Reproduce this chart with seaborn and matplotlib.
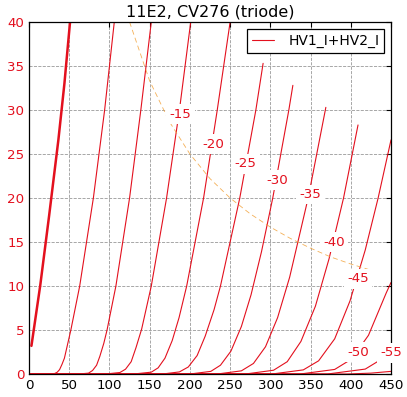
import matplotlib
matplotlib.use('Agg')
import matplotlib.pyplot as plt
from matplotlib.lines import Line2D
import pandas as pd
import seaborn as sns

# anode voltage (V) / anode current (mA) for each grid voltage
va_g0 = [3, 14, 25, 36.5, 44, 51]
ia_g0 = [3.2, 10.1, 18, 26.6, 33, 40]
va_g5 = [0, 20, 32, 35, 38, 41, 44, 52, 63, 80, 94, 106]
ia_g5 = [0, 0, 0.06, 0.2, 0.5, 1.1, 1.8, 5, 10, 20, 30, 40]
va_g10 = [0, 62, 74, 79, 84, 88, 93, 97, 108, 125, 139, 152]
ia_g10 = [0, 0, 0.1, 0.4, 1.0, 2.0, 3.5, 5, 10, 20, 30, 40]
va_g15 = [0, 95, 113, 120, 127, 133, 140, 152, 171, 187, 201]
ia_g15 = [0, 0, 0.17, 0.55, 1.4, 3.0, 5.1, 10, 20, 30, 40]
va_g20 = [0, 130, 152, 160.5, 169, 178, 186.5, 196, 217, 234, 250]
ia_g20 = [0, 0, 0.21, 0.7, 1.8, 3.8, 6.4, 10, 20, 30, 40]
va_g25 = [0, 166, 187, 198, 209, 219, 230, 238, 262, 282, 291]
ia_g25 = [0, 0, 0.24, 0.8, 2.1, 4.3, 7.3, 10, 20, 30, 35.3]
va_g30 = [0, 200, 226, 238, 251, 264, 276, 289, 303, 323, 328]
ia_g30 = [0, 0, 0.3, 1.0, 2.6, 5.4, 9.0, 13.9, 20, 30, 32.8]
va_g35 = [0, 234, 264, 279, 294, 309, 324, 347, 369]
ia_g35 = [0, 0, 0.36, 1.2, 3.1, 6.4, 11, 20, 30.3]
va_g40 = [0, 269, 304, 321, 338, 356, 373, 391, 409]
ia_g40 = [0, 0, 0.43, 1.4, 3.7, 7.7, 13.1, 20, 28.3]
va_g45 = [0, 302, 341, 360, 380, 399, 418, 434, 450]
ia_g45 = [0, 0, 0.47, 1.5, 4.0, 8.3, 14.1, 20, 26.6]
va_g50 = [0, 337, 380, 401, 422, 444, 450]
ia_g50 = [0, 0, 0.52, 1.7, 4.4, 9.2, 10.4]
va_g55 = [0, 371, 418, 441, 450]
ia_g55 = [0, 0, 0.56, 1.84, 2.7]
va_g60 = [0, 395, 425, 450]
ia_g60 = [0, 0, 0.1, 0.3]

# 5 W anode dissipation limit
va_pmax = [125, 150, 175, 200, 225, 250, 275, 300, 325, 350, 375, 400, 425]
ia_pmax = [40, 33.3, 28.6, 25, 22.2, 20, 18.2, 16.7, 15.4, 14.3, 13.3, 12.5, 11.8]

# curve labels
label_text = ['-15', '-20', '-25', '-30', '-35', '-40', '-45', '-50', '-55']
label_va = [188, 229, 269, 309, 350, 379, 409, 409, 450]
label_ia = [29.5, 26.1, 23.9, 22.0, 20.4, 15.0, 10.8, 2.5, 2.4]

curves = {
    -5: (va_g5, ia_g5), -10: (va_g10, ia_g10), -15: (va_g15, ia_g15),
    -20: (va_g20, ia_g20), -25: (va_g25, ia_g25), -30: (va_g30, ia_g30),
    -35: (va_g35, ia_g35), -40: (va_g40, ia_g40), -45: (va_g45, ia_g45),
    -50: (va_g50, ia_g50), -55: (va_g55, ia_g55), -60: (va_g60, ia_g60),
}
rows = []
for vg, (va, ia) in curves.items():
    for v, i in zip(va, ia):
        rows.append({'vg': vg, 'va': v, 'ia': i})
df = pd.DataFrame(rows)

sns.set_style('white')
plt.rcParams.update({
    'xtick.direction': 'in', 'ytick.direction': 'in',
    'xtick.top': True, 'ytick.right': True,
    'xtick.major.size': 3.5, 'ytick.major.size': 3.5,
    'axes.linewidth': 0.9, 'axes.edgecolor': 'black',
    'text.color': 'black', 'xtick.color': 'black', 'ytick.color': 'black',
    'font.family': ['DejaVu Sans'],
})

RED = '#e3101e'
fig = plt.figure(figsize=(4.07, 3.97), dpi=100)
ax = fig.add_axes([0.0713, 0.0579, 0.8894, 0.8867])

sns.lineplot(x=va_g0, y=ia_g0, ax=ax, color=RED, lw=1.8, sort=False)
sns.lineplot(data=df, x='va', y='ia', units='vg', estimator=None, sort=False,
             ax=ax, color=RED, lw=0.8, legend=False)
sns.lineplot(x=va_pmax, y=ia_pmax, ax=ax, color='#f2a23a', lw=0.6,
             linestyle=(0, (6, 4)), sort=False, alpha=0.85)

for t, x, y in zip(label_text, label_va, label_ia):
    ax.text(x, y, t, color=RED, fontsize=9.6, ha='center', va='center', zorder=5,
            bbox=dict(facecolor='white', edgecolor='none', pad=2.5))

ax.set_xlim(0, 450)
ax.set_ylim(0, 40)
ax.set_xticks(range(0, 451, 50))
ax.set_yticks(range(0, 41, 5))
ax.set_xlabel('')
ax.set_ylabel('')
ax.grid(True, color='0.6', linestyle='--', linewidth=0.6)
ax.tick_params(axis='x', labelsize=9.6, labelcolor='black')
ax.tick_params(axis='y', labelsize=9.6, labelcolor=RED)
ax.set_title('11E2, CV276 (triode)', fontsize=11.5, pad=4, color='black')
handle = Line2D([], [], color=RED, lw=0.8)
leg = ax.legend([handle], ['HV1_I+HV2_I'], loc='upper right', fontsize=10,
                fancybox=False, edgecolor='black', framealpha=1,
                handlelength=1.6, handletextpad=1.0, borderaxespad=0.5,
                borderpad=0.35)
leg.get_frame().set_linewidth(0.9)
leg.set_zorder(6)
for s in ax.spines.values():
    s.set_visible(True)

fig.savefig('out.png', dpi=100)
